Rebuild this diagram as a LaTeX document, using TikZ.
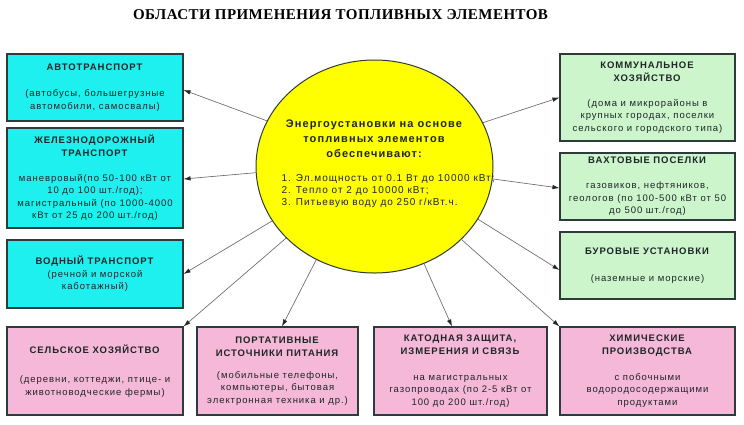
\documentclass[tikz,border=0pt]{standalone}
\usepackage{fontspec}
\setmainfont{Liberation Sans}[LetterSpace=10]
\newfontfamily\titlefont{Liberation Serif}[LetterSpace=3]
\usetikzlibrary{shapes.geometric,arrows.meta}
\definecolor{cyanbox}{HTML}{1EF0F0}
\definecolor{greenbox}{HTML}{CCF5CC}
\definecolor{pinkbox}{HTML}{F5B8D8}
\definecolor{edgecol}{HTML}{2E3B3B}
\definecolor{txtcol}{HTML}{1E2626}
\definecolor{arrcol}{HTML}{6A6A6A}
\definecolor{sunyellow}{HTML}{FFFF00}
\begin{document}
\begin{tikzpicture}[x=1pt,y=-1pt,
  box/.style={draw=edgecol, line width=1.1pt, inner sep=0pt, align=center,
    text=txtcol, font=\fontsize{9.5}{12.5}\selectfont},
  cyanb/.style={box, fill=cyanbox},
  greenb/.style={box, fill=greenbox},
  pinkb/.style={box, fill=pinkbox},
  conn/.style={draw=arrcol, line width=0.65pt,
    -{Latex[length=7pt,width=4.5pt,color=black!85]}}]
\fill[white] (0,0) rectangle (744,424);
\useasboundingbox (0,0) rectangle (744,424);

\node[font=\titlefont\bfseries\fontsize{15}{17}\selectfont, text=black] (T) at (340.5,15)
  {ОБЛАСТИ ПРИМЕНЕНИЯ ТОПЛИВНЫХ ЭЛЕМЕНТОВ};

% left column
\node[cyanb, minimum width=176pt, minimum height=67pt] (L1) at (95,87.5)
  {\textbf{АВТОТРАНСПОРТ}\\[14pt](автобусы, большегрузные\\автомобили, самосвалы)};
\node[cyanb, minimum width=176pt, minimum height=100pt] (L2) at (95,178)
  {\textbf{ЖЕЛЕЗНОДОРОЖНЫЙ}\\\textbf{ТРАНСПОРТ}\\[12.5pt]маневровый(по 50-100 кВт от\\10 до 100 шт./год);\\магистральный (по 1000-4000\\кВт от 25 до 200 шт./год)};
\node[cyanb, minimum width=176pt, minimum height=68pt] (L3) at (95,274)
  {\textbf{ВОДНЫЙ ТРАНСПОРТ}\\(речной и морской\\каботажный)};

% right column
\node[greenb, minimum width=175pt, minimum height=87pt] (R1) at (647.5,97.5)
  {\textbf{КОММУНАЛЬНОЕ}\\\textbf{ХОЗЯЙСТВО}\\[12.5pt](дома и микрорайоны в\\крупных городах, поселки\\сельского и городского типа)};
\node[greenb, minimum width=175pt, minimum height=67pt] (R2) at (647.5,186.5)
  {\textbf{ВАХТОВЫЕ ПОСЕЛКИ}\\[12.5pt]газовиков, нефтяников,\\геологов (по 100-500 кВт от 50\\до 500 шт./год)};
\node[greenb, minimum width=175pt, minimum height=67pt] (R3) at (647.5,265.5)
  {\textbf{БУРОВЫЕ УСТАНОВКИ}\\[14pt](наземные и морские)};

% bottom row
\node[pinkb, minimum width=176pt, minimum height=88pt] (A) at (95,371)
  {\textbf{СЕЛЬСКОЕ ХОЗЯЙСТВО}\\[17pt](деревни, коттеджи, птице- и\\животноводческие фермы)};
\node[pinkb, minimum width=161pt, minimum height=88pt] (B) at (277.5,371)
  {\textbf{ПОРТАТИВНЫЕ}\\\textbf{ИСТОЧНИКИ ПИТАНИЯ}\\[9.5pt](мобильные телефоны,\\компьютеры, бытовая\\электронная техника и др.)};
\node[pinkb, minimum width=173pt, minimum height=88pt] (C) at (460.5,371)
  {\textbf{КАТОДНАЯ ЗАЩИТА,}\\\textbf{ИЗМЕРЕНИЯ И СВЯЗЬ}\\[13.5pt]на магистральных\\газопроводах (по 2-5 кВт от\\100 до 200 шт./год)};
\node[pinkb, minimum width=175pt, minimum height=88pt] (D) at (647.5,371)
  {\textbf{ХИМИЧЕСКИЕ}\\\textbf{ПРОИЗВОДСТВА}\\[13.5pt]с побочными\\водородосодержащими\\продуктами};

% centre
\node[ellipse, draw=edgecol, line width=1pt, fill=sunyellow, minimum width=237pt,
  minimum height=213pt, inner sep=0pt] (E) at (374.5,166.5) {};
\node[font=\bfseries\fontsize{11}{15}\selectfont, align=center, text=txtcol] (EH) at (374,139)
  {Энергоустановки на основе\\топливных элементов\\обеспечивают:};
\node[anchor=west, align=left, font=\fontsize{10}{12}\selectfont, text=txtcol] (EL) at (278,191)
  {1. Эл.мощность от 0.1 Вт до 10000 кВт;\\2. Тепло от 2 до 10000 кВт;\\3. Питьевую воду до 250 г/кВт.ч.};

% connectors
\draw[conn] (E.157) -- ([yshift=-2.5pt]L1.east);
\draw[conn] (E.183) -- ([yshift=-1pt]L2.east);
\draw[conn] (E.208) -- (L3.east);
\draw[conn] (E.219) -- (A.north east);
\draw[conn] (E.238) -- ([xshift=4.5pt]B.north);
\draw[conn] (E.297) -- ([xshift=-8.5pt]C.north);
\draw[conn] (E.320) -- (D.north west);
\draw[conn] (E.333) -- ([yshift=-4.5pt]R3.west);
\draw[conn] (E.354) -- ([yshift=-1.5pt]R2.west);
\draw[conn] (E.22) -- (R1.west);
\end{tikzpicture}
\end{document}
